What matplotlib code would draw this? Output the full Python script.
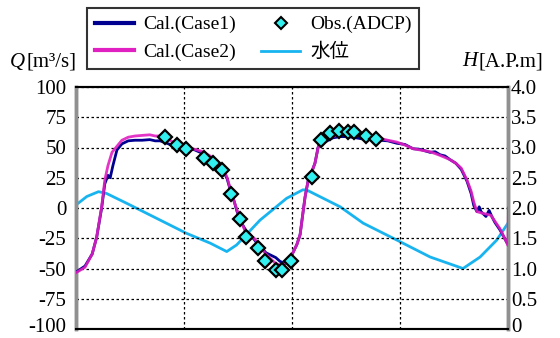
import numpy as np
import matplotlib.pyplot as plt
import matplotlib.transforms as mtransforms
from matplotlib.lines import Line2D

plt.rcParams['font.family'] = ['Liberation Serif', 'Noto Sans CJK JP']

# time [h]
t_case2 = [0, 1, 1.8, 2.3, 2.85, 3.2, 3.55, 4.0, 4.55, 5.1, 5.8, 6.55, 7.35, 8.2, 8.8, 9.35, 9.9,
           10.65, 11.55, 12.35, 13.2, 14.1, 14.9, 15.55, 16.35, 16.8, 17.1, 17.55, 17.9, 18.45,
           18.9, 19.35, 19.8, 20.2, 20.65, 21.1, 21.65, 22.2, 22.65, 23.2, 23.65, 24.1, 24.55,
           24.9, 25.2, 25.45, 25.8, 26.2, 26.55, 26.9, 27.2, 27.55, 27.9, 28.55, 29.35, 30.2,
           31.1, 31.9, 32.9, 33.8, 34.65, 35.65, 36.55, 37.45, 38.2, 39.35, 40.45, 41.55, 42.2,
           42.8, 43.45, 43.9, 44.2, 44.55, 45.0, 45.55, 46.1, 46.55, 47.1, 47.55, 47.9, 48.0, 48.05]
q_case2 = [-53.5, -49, -38, -24, 1, 23, 35, 46, 51, 56, 58.5, 59.5, 60, 60.5, 59.5, 59.5, 58.5,
           55, 53, 50, 48.5, 46.5, 43, 39, 33, 25, 17, 6, -2, -13,
           -21, -24, -25, -29, -34, -38, -42, -46, -47, -46, -43, -37, -30,
           -22, -5, 9, 23, 30, 37, 50, 56.5, 57, 57, 59, 61, 61.5,
           60.5, 59, 58, 57.5, 56, 54.5, 52, 49, 48, 46.5, 43.5, 40, 37,
           33, 23, 14, 5, -3, -4, -5, -6, -11, -17, -24, -29, -31, 0]

t_case1 = [0, 1, 1.8, 2.3, 2.85, 3.2, 3.55, 3.8, 4.1, 4.55, 5.1, 5.8, 6.55, 7.35, 8.2, 8.8, 9.35,
           9.9, 10.65, 11.55, 12.35, 13.2, 14.1, 14.9, 15.55, 16.35, 16.8, 17.1, 17.55, 17.9,
           18.45, 18.9, 19.35, 19.8, 20.2, 20.65, 21.1, 21.65, 22.2, 22.65, 23.2, 23.65, 24.1,
           24.55, 24.9, 25.2, 25.45, 25.8, 26.2, 26.55, 26.9, 27.2, 27.55, 27.9, 28.55, 29.35,
           30.2, 31.1, 31.9, 32.9, 33.8, 34.65, 35.65, 36.55, 37.45, 38.2, 39.35, 39.9, 40.45,
           41.0, 41.55, 42.2, 42.8, 43.45, 43.9, 44.2, 44.55, 44.8, 45.0, 45.55, 45.9, 46.2,
           46.55, 47.1, 47.55, 47.9]
q_case1 = [-53, -48, -38, -24, 0, 20, 27, 25, 35, 48, 53, 55.5, 56, 56, 56.5, 55.5, 55.5,
           54, 52, 51.5, 49.5, 48, 45, 41, 37, 31, 24, 16, 6, -3,
           -13, -19, -22, -26, -30, -33, -37, -39, -41, -44, -46, -43, -37,
           -30, -22, -5, 9, 23, 30, 37, 50, 56, 54, 55.5, 58, 59,
           59, 58, 57, 57, 56, 55.5, 53.5, 52.5, 49, 48.5, 46, 46.5, 44,
           43, 40, 37, 32, 22, 12, 2, -3, 1, -3, -7, -2, -7,
           -12, -18, -24, -29]

t_obs = [9.9, 11.2, 12.2, 14.2, 15.25, 16.25, 17.2, 18.25, 18.9, 20.25, 21.0, 22.2, 22.9, 23.9,
         26.2, 27.2, 28.2, 29.2, 30.25, 30.9, 32.2, 33.3]
q_obs = [58.4, 52, 48.5, 41, 37.4, 31.4, 11.3, -9.3, -23.7, -33.3, -43.5, -51.2, -51.2, -43.8,
         25.9, 56.2, 61.7, 63.9, 63.1, 62.5, 59.8, 56.8]

t_wl = [0, 1.2, 2.5, 3.4, 5.6, 9.35, 12.3, 14.9, 16.75, 17.85, 20.45, 23.4, 25.2, 25.6, 29.35,
        31.9, 35.65, 39.35, 43.0, 44.9, 46.75, 48.0]
h_wl = [2.05, 2.19, 2.27, 2.24, 2.08, 1.80, 1.58, 1.42, 1.28, 1.39, 1.80, 2.16, 2.30, 2.30, 2.02,
        1.75, 1.47, 1.19, 1.0, 1.19, 1.47, 1.75]

q_ticks = [100, 75, 50, 25, 0, -25, -50, -75, -100]
h_ticks = [0, 0.5, 1.0, 1.5, 2.0, 2.5, 3.0, 3.5, 4.0]

c_case1 = '#000090'
c_case2 = '#E020C0'
c_wl = '#18B4F0'
fs = 15

fig = plt.figure(figsize=(5.6, 3.38), dpi=100)
ax = fig.add_axes([76/560, 1-329/338, 432/560, 242/338])
ax2 = ax.twinx()

ax2.plot(t_wl, h_wl, color=c_wl, lw=2)
ax.plot(t_case1, q_case1, color=c_case1, lw=2, zorder=3)
ax.plot(t_case2, q_case2, color=c_case2, lw=2, zorder=3, alpha=0.9)
ax.plot(t_obs, q_obs, ls='', marker='D', ms=7.5, mfc='#33F0F0', mec='black', mew=1.6, zorder=4)

ax.set_zorder(ax2.get_zorder() + 1)
ax.patch.set_visible(False)

ax.set_xlim(0, 48)
ax.set_ylim(-100, 100)
ax2.set_ylim(0, 4)
ax.set_xticks([0, 12, 24, 36, 48])
ax.set_xticklabels([])
ax.set_yticks(q_ticks)
ax.set_yticklabels([str(v) for v in q_ticks])
ax2.set_yticks(h_ticks)
ax2.set_yticklabels(['0'] + ['%.1f' % v for v in h_ticks[1:]])
ax.grid(True, color='black', ls=(0, (2, 2)), lw=0.9)
ax.tick_params(axis='y', length=0, labelsize=fs, pad=7, colors='black')
ax.tick_params(axis='x', length=0)
ax2.tick_params(axis='y', length=0, labelsize=fs, pad=2)
for a in (ax, ax2):
    a.spines['left'].set_color('#909090')
    a.spines['right'].set_color('#909090')
    a.spines['left'].set_linewidth(2.5)
    a.spines['right'].set_linewidth(2.5)
    a.spines['top'].set_color('black')
    a.spines['bottom'].set_color('black')
    a.spines['top'].set_linewidth(1.5)
    a.spines['bottom'].set_linewidth(1.5)

# lift the lowest labels a little so they stay inside the picture
lift = mtransforms.ScaledTranslation(0, 4/100, fig.dpi_scale_trans)
for lab in (ax.yaxis.get_majorticklabels()[-1], ax2.yaxis.get_majorticklabels()[0]):
    lab.set_transform(lab.get_transform() + lift)

# axis titles: italic symbol followed by unit
r = fig.canvas.get_renderer()
for x0, sym, unit in [(10, 'Q', '[m³/s]'), (462, 'H', '[A.P.m]')]:
    t1 = fig.text(x0/560, 1-62/338, sym, fontsize=fs, style='italic', va='center', ha='left')
    w = t1.get_window_extent(renderer=r).width
    fig.text((x0 + w + 1)/560, 1-62/338, unit, fontsize=fs, va='center', ha='left')

handles = [Line2D([], [], color=c_case1, lw=3),
           Line2D([], [], color=c_case2, lw=3),
           Line2D([], [], ls='', marker='D', ms=6, mfc='#33F0F0', mec='black', mew=1.5),
           Line2D([], [], color=c_wl, lw=2)]
labels = ['Cal.(Case1)', 'Cal.(Case2)', 'Obs.(ADCP)', '水位']
leg = fig.legend(handles, labels, ncol=2, loc='upper left',
                 bbox_to_anchor=(87/560, 1-8/338), borderaxespad=0, fontsize=14, frameon=True,
                 fancybox=False, edgecolor='black', handlelength=2.0, handletextpad=0.5,
                 columnspacing=1.3, labelspacing=0.5, borderpad=0.4)
leg.get_frame().set_linewidth(1.5)

fig.savefig('out.png', dpi=100)
